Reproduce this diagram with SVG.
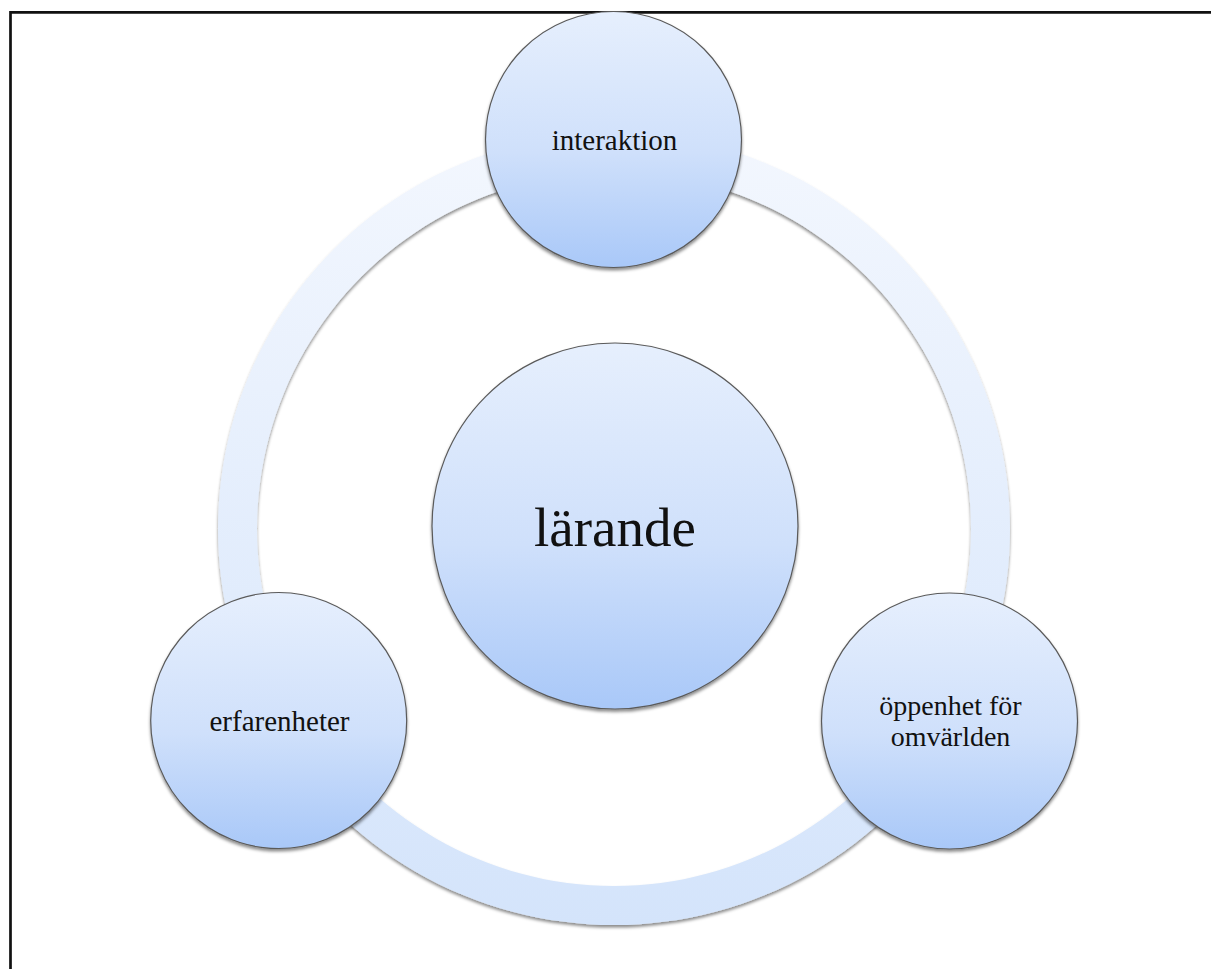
<svg xmlns="http://www.w3.org/2000/svg" width="1211" height="969" viewBox="0 0 1211 969">
  <defs>
    <linearGradient id="nodeFill" x1="0" y1="0" x2="0" y2="1">
      <stop offset="0" stop-color="#e6effd"/>
      <stop offset="0.55" stop-color="#cfe0fb"/>
      <stop offset="1" stop-color="#a9c8f8"/>
    </linearGradient>
    <linearGradient id="ringFill" gradientUnits="userSpaceOnUse" x1="0" y1="133" x2="0" y2="925">
      <stop offset="0" stop-color="#f3f7fe"/>
      <stop offset="1" stop-color="#d4e4fb"/>
    </linearGradient>
    <filter id="shadow" x="-10%" y="-10%" width="120%" height="125%">
      <feDropShadow dx="0" dy="2.5" stdDeviation="1.6" flood-color="#000" flood-opacity="0.45"/>
    </filter>
  </defs>
  <style>
    .node { fill: url(#nodeFill); stroke: #5a5a5a; stroke-width: 1.2; filter: url(#shadow); }
    .ring { fill: url(#ringFill); fill-rule: evenodd; filter: url(#shadow); }
    .label { font-family: "Liberation Serif", "Times New Roman", serif; fill: #111; text-anchor: middle; }
    .small { font-size: 29px; }
    .two { font-size: 28px; }
    .big { font-size: 55px; }
  </style>
  <rect width="1211" height="969" fill="#fff"/>
  <path d="M10.5,969 V12.3 H1211" fill="none" stroke="#111" stroke-width="2.7"/>

  <g id="connectors">
    <path class="ring" d="M614,133 A396,396 0 1,1 613.99,133 Z M614,172 A357,357 0 1,0 614.01,172 Z"/>
  </g>

  <g id="node-larande">
    <circle class="node" cx="615" cy="526" r="183"/>
    <text class="label big" x="615" y="546">lärande</text>
  </g>

  <g id="node-interaktion">
    <circle class="node" cx="613.5" cy="139.5" r="128"/>
    <text class="label small" x="614.5" y="150">interaktion</text>
  </g>

  <g id="node-erfarenheter">
    <circle class="node" cx="278.7" cy="720.5" r="128"/>
    <text class="label small" x="279.5" y="731">erfarenheter</text>
  </g>

  <g id="node-oppenhet">
    <circle class="node" cx="949.5" cy="721" r="128"/>
    <text class="label two" x="950.5" y="715">öppenhet för</text>
    <text class="label two" x="950.5" y="746">omvärlden</text>
  </g>
</svg>
